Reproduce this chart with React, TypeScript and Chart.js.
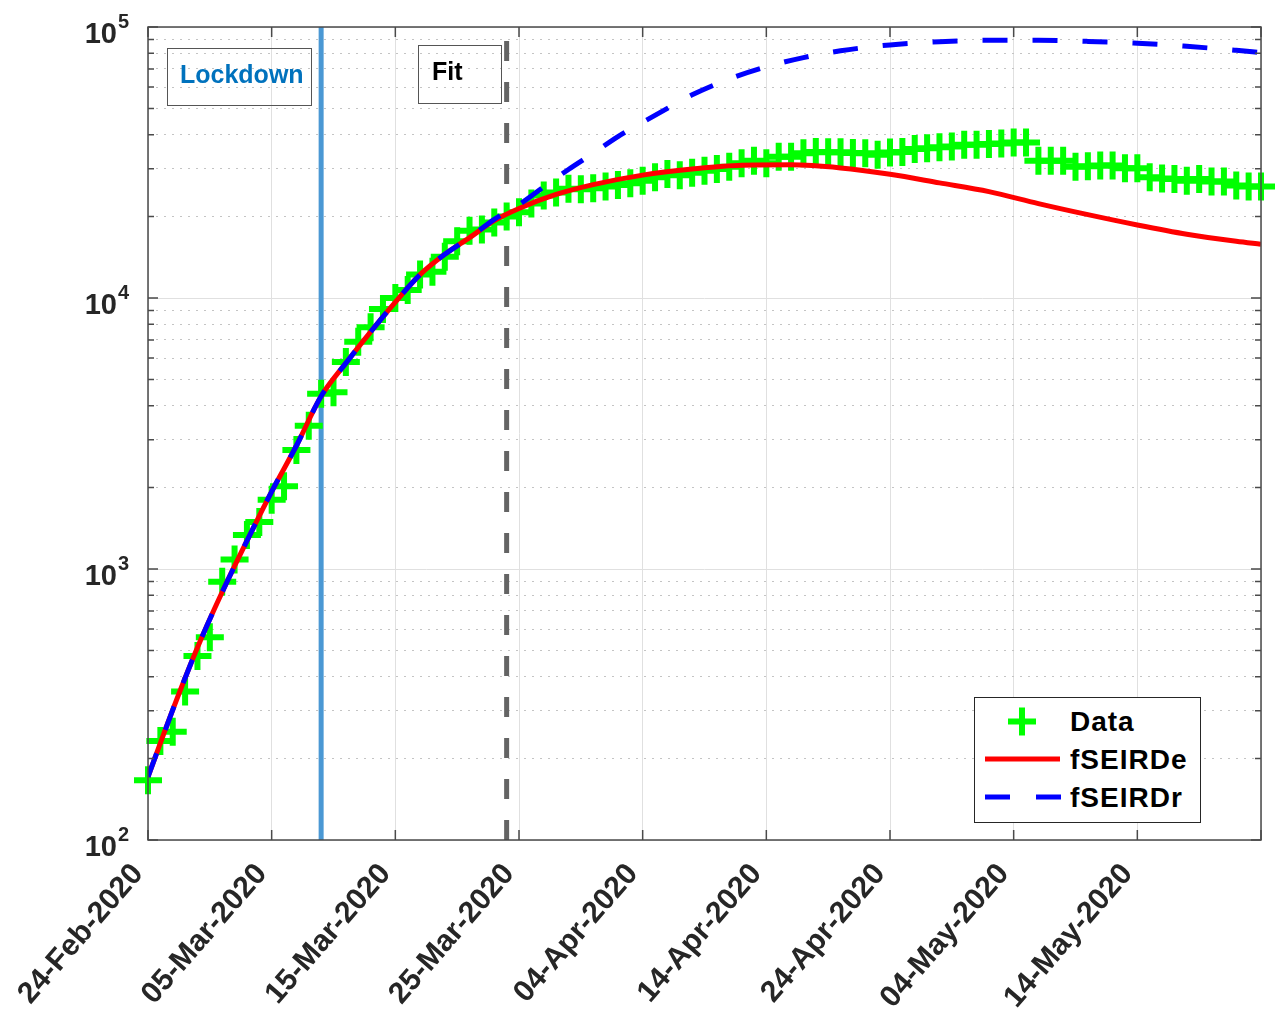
import React, { useEffect, useRef } from "react";
import { Chart, registerables } from "chart.js";

Chart.register(...registerables);

const FONT = "'Liberation Sans', Arial, Helvetica, sans-serif";
const TEXT = "#262626";

// x axis: days since 24-Feb-2020
const xMin = 0;
const xMax = 90;
const xTickDays = [0, 10, 20, 30, 40, 50, 60, 70, 80];
const xTickLabels = [
  "24-Feb-2020",
  "05-Mar-2020",
  "15-Mar-2020",
  "25-Mar-2020",
  "04-Apr-2020",
  "14-Apr-2020",
  "24-Apr-2020",
  "04-May-2020",
  "14-May-2020",
];

// y axis (log)
const yMin = 100;
const yMax = 100000;
const yMajorValues = [100, 1000, 10000, 100000];
const yMajorBase = ["10", "10", "10", "10"];
const yMajorExponents = ["2", "3", "4", "5"];
const yMinorValues = [
  200, 300, 400, 500, 600, 700, 800, 900,
  2000, 3000, 4000, 5000, 6000, 7000, 8000, 9000,
  20000, 30000, 40000, 50000, 60000, 70000, 80000, 90000,
];

const lockdownDay = 14;
const fitDay = 29;

// Data: one value per day from 24-Feb-2020 (day 0) to 24-May-2020 (day 90)
const dataValues = [
  166, 232, 251, 353, 477, 560, 898, 1085, 1335, 1490,
  1800, 2020, 2750, 3380, 4430, 4490, 5800, 6900, 7800, 9100,
  10000, 10700, 12200, 12500, 14200, 16200, 17700, 17900, 19000, 20000,
  20700, 22300, 23900, 24500, 25300, 25200, 25400, 25800, 26100, 26500,
  27100, 27900, 28700, 28400, 29000, 29500, 29900, 30500, 31400, 32100,
  31400, 33200, 33200, 34200, 34600, 34500, 34500, 34300, 34200, 33800,
  34400, 34600, 35500, 35700, 36000, 36200, 36800, 36800, 37000, 37200,
  37500, 37500, 32100, 32100, 32100, 30500, 30600, 30800, 30800, 30100,
  30100, 27900, 27600, 27500, 27100, 27500, 26900, 26900, 26000, 25800,
  25800,
];

// fSEIRDe model
const modelDaysE = [0, 2, 4, 6, 8, 10, 12, 14, 16, 18, 20, 22, 24, 26, 28, 30, 33, 36, 40, 44, 48, 52, 56, 60, 64, 68, 72, 76, 80, 84, 88, 90];
const fSEIRDeValues = [171, 302, 513, 822, 1270, 1930, 2850, 4340, 5750, 7500, 9660, 12200, 14500, 16700, 19300, 21400, 24100, 26200, 28400, 29900, 30900, 31000, 30200, 28600, 26600, 24700, 22300, 20300, 18600, 17200, 16200, 15800];

// fSEIRDr model
const modelDaysR = [0, 2, 4, 6, 8, 10, 12, 14, 16, 18, 20, 22, 24, 26, 28, 30, 32, 34, 36, 38, 40, 42, 44, 47, 50, 53, 56, 60, 64, 68, 72, 76, 80, 84, 88, 90];
const fSEIRDrValues = [171, 302, 513, 822, 1270, 1930, 2850, 4340, 5750, 7500, 9660, 12200, 14500, 16700, 19500, 22100, 25700, 29800, 34200, 39400, 44500, 50100, 56200, 64300, 71300, 77100, 81700, 85900, 88300, 89300, 89300, 88500, 87100, 84900, 82000, 80500];

const isMajorY = (v: number) => yMajorValues.indexOf(v) >= 0;

// MATLAB-like box, inward tick marks and power-of-ten y labels
const framePlugin = {
  id: "matlabFrame",
  afterDraw(chart: any) {
    const { ctx, chartArea } = chart;
    const { left, right, top, bottom } = chartArea;
    const xs = chart.scales.x;
    const ys = chart.scales.y;
    ctx.save();
    ctx.strokeStyle = "#4a4a4a";
    ctx.lineWidth = 1.5;
    ctx.beginPath();
    xs.ticks.forEach((t: any) => {
      const px = xs.getPixelForValue(t.value);
      ctx.moveTo(px, bottom);
      ctx.lineTo(px, bottom - 10);
      ctx.moveTo(px, top);
      ctx.lineTo(px, top + 10);
    });
    ys.ticks.forEach((t: any) => {
      const py = ys.getPixelForValue(t.value);
      const len = isMajorY(t.value) ? 10 : 6;
      ctx.moveTo(left, py);
      ctx.lineTo(left + len, py);
      ctx.moveTo(right, py);
      ctx.lineTo(right - len, py);
    });
    ctx.stroke();
    ctx.strokeRect(left, top, right - left, bottom - top);

    // y tick labels: "10" with raised exponent
    ctx.fillStyle = TEXT;
    ctx.textBaseline = "alphabetic";
    yMajorValues.forEach((v, i) => {
      const py = ys.getPixelForValue(v);
      ctx.font = `bold 29px ${FONT}`;
      ctx.textAlign = "right";
      ctx.fillText(yMajorBase[i], left - 31, py + 16);
      ctx.font = `bold 20px ${FONT}`;
      ctx.textAlign = "left";
      ctx.fillText(yMajorExponents[i], left - 30, py + 1);
    });
    ctx.restore();
  },
};

export default function App() {
  const canvasRef = useRef<HTMLCanvasElement | null>(null);

  useEffect(() => {
    if (!canvasRef.current) return;
    const chart = new Chart(canvasRef.current, {
      type: "line",
      data: {
        datasets: [
          {
            label: "fSEIRDr",
            data: modelDaysR.map((d, i) => ({ x: d, y: fSEIRDrValues[i] })),
            borderColor: "#0000ff",
            borderWidth: 5,
            borderDash: [25, 25],
            pointRadius: 0,
            cubicInterpolationMode: "monotone",
            order: 1,
          },
          {
            label: "fSEIRDe",
            data: modelDaysE.map((d, i) => ({ x: d, y: fSEIRDeValues[i] })),
            borderColor: "#ff0000",
            borderWidth: 5,
            pointRadius: 0,
            cubicInterpolationMode: "monotone",
            order: 2,
          },
          {
            label: "Data",
            data: dataValues.map((v, i) => ({ x: i, y: v })),
            showLine: false,
            pointStyle: "cross",
            pointRadius: 14,
            pointBorderWidth: 6,
            pointBorderColor: "#00ff00",
            pointBackgroundColor: "#00ff00",
            borderColor: "#00ff00",
            clip: false,
            order: 3,
          },
          {
            label: "Fit",
            data: [
              { x: fitDay, y: yMin },
              { x: fitDay, y: yMax },
            ],
            borderColor: "rgb(100,100,100)",
            borderWidth: 5,
            borderDash: [20, 21],
            pointRadius: 0,
            order: 4,
          },
          {
            label: "Lockdown",
            data: [
              { x: lockdownDay, y: yMin },
              { x: lockdownDay, y: yMax },
            ],
            borderColor: "rgb(74,152,212)",
            borderWidth: 5,
            pointRadius: 0,
            order: 5,
          },
        ] as any,
      },
      options: {
        animation: false,
        responsive: false,
        maintainAspectRatio: false,
        layout: { padding: { top: 27, right: 16, left: 0, bottom: 0 } },
        plugins: {
          legend: { display: false },
          tooltip: { enabled: false },
        },
        scales: {
          x: {
            type: "linear",
            min: xMin,
            max: xMax,
            afterBuildTicks: (s: any) => {
              s.ticks = xTickDays.concat([xMax]).map((v) => ({ value: v }));
            },
            ticks: {
              autoSkip: false,
              maxRotation: 49,
              minRotation: 49,
              padding: 17,
              labelOffset: -10,
              color: TEXT,
              font: { family: FONT, size: 30, weight: "bold" },
              callback: (v: any) => {
                const i = xTickDays.indexOf(Number(v));
                return i >= 0 ? xTickLabels[i] : "";
              },
            },
            grid: { color: "#e0e0e0", lineWidth: 1, drawTicks: false },
            border: { display: false },
            afterFit: (s: any) => {
              s.height = 179;
              s.paddingLeft = 0;
              s.paddingRight = 0;
            },
          },
          y: {
            type: "logarithmic",
            min: yMin,
            max: yMax,
            afterBuildTicks: (s: any) => {
              s.ticks = yMajorValues
                .concat(yMinorValues)
                .sort((a, b) => a - b)
                .map((v) => ({ value: v }));
            },
            ticks: {
              autoSkip: false,
              display: false,
            },
            grid: {
              drawTicks: false,
              lineWidth: 1,
              color: (ctx: any) =>
                ctx.tick && isMajorY(ctx.tick.value) ? "#e0e0e0" : "#c4c4c4",
            },
            border: {
              display: false,
              dash: (ctx: any) =>
                ctx.tick && !isMajorY(ctx.tick.value) ? [2, 6] : [],
            },
            afterFit: (s: any) => {
              s.width = 148;
              s.paddingTop = 0;
              s.paddingBottom = 0;
            },
          },
        },
      } as any,
      plugins: [framePlugin],
    });
    return () => chart.destroy();
  }, []);

  const legendText = {
    position: "absolute" as const,
    left: 95,
    height: 30,
    lineHeight: "30px",
    whiteSpace: "nowrap" as const,
    letterSpacing: "1px",
  };

  return (
    <div
      style={{
        position: "absolute",
        left: 0,
        top: 0,
        width: 1281,
        height: 1019,
        background: "#ffffff",
        overflow: "hidden",
      }}
    >
      <canvas ref={canvasRef} width={1281} height={1019} style={{ display: "block" }} />

      {/* Lockdown annotation */}
      <div
        style={{
          position: "absolute",
          left: 167,
          top: 48,
          width: 145,
          height: 58,
          border: "1px solid #555",
          boxSizing: "border-box",
        }}
      />
      <div
        style={{
          position: "absolute",
          left: 180,
          top: 60,
          height: 28,
          lineHeight: "28px",
          fontFamily: FONT,
          fontWeight: "bold",
          fontSize: 25,
          color: "#0072BD",
          whiteSpace: "nowrap",
        }}
      >
        Lockdown
      </div>

      {/* Fit annotation */}
      <div
        style={{
          position: "absolute",
          left: 418,
          top: 45,
          width: 84,
          height: 59,
          border: "1px solid #555",
          boxSizing: "border-box",
        }}
      />
      <div
        style={{
          position: "absolute",
          left: 432,
          top: 57,
          height: 28,
          lineHeight: "28px",
          fontFamily: FONT,
          fontWeight: "bold",
          fontSize: 25,
          color: "#000",
          whiteSpace: "nowrap",
        }}
      >
        Fit
      </div>

      {/* Legend */}
      <div
        style={{
          position: "absolute",
          left: 974,
          top: 697,
          width: 227,
          height: 126,
          border: "1px solid #262626",
          boxSizing: "border-box",
          background: "#fff",
          fontFamily: FONT,
          fontWeight: "bold",
          fontSize: 28,
          color: "#000",
        }}
      >
        <svg
          width={225}
          height={124}
          style={{ position: "absolute", left: 0, top: 0 }}
        >
          <line x1={47} x2={47} y1={9.5} y2={37.5} stroke="#00ff00" strokeWidth={6} />
          <line x1={33} x2={61} y1={23.5} y2={23.5} stroke="#00ff00" strokeWidth={6} />
          <line x1={10} x2={85} y1={61} y2={61} stroke="#ff0000" strokeWidth={5} />
          <line
            x1={10}
            x2={86}
            y1={99}
            y2={99}
            stroke="#0000ff"
            strokeWidth={5}
            strokeDasharray="25 26"
          />
        </svg>
        <div style={{ ...legendText, top: 9 }}>Data</div>
        <div style={{ ...legendText, top: 47 }}>fSEIRDe</div>
        <div style={{ ...legendText, top: 85 }}>fSEIRDr</div>
      </div>
    </div>
  );
}
